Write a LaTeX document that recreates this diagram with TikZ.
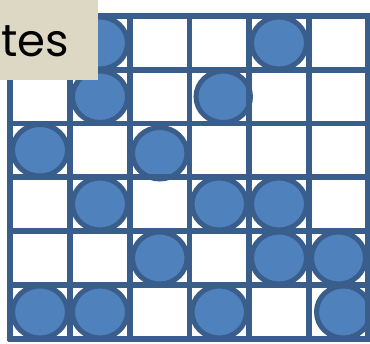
\documentclass[tikz,border=0pt]{standalone}
\usepackage{fontspec}
\newfontfamily\labelfont{Poppins}
\definecolor{gridblue}{HTML}{3A5E8C}
\definecolor{dotblue}{HTML}{4F81BD}
\definecolor{labelbg}{HTML}{DDD8C4}
\begin{document}
\begin{tikzpicture}[x=1pt,y=-1pt,
  gridline/.style={draw=gridblue,line width=5.5pt},
  dot/.style={draw=gridblue,fill=dotblue,line width=5pt}]
\useasboundingbox (0,0) rectangle (370,344);
\def\xs{{10,70,130,189.5,249,309,368}}
\def\ys{{16,70,123.5,177,231,285,339}}
% circles: (col,row,dx,dy)
\foreach \c/\r/\dx/\dy in {2/1/0/0,5/1/0/0,2/2/0/0,4/2/4/0,1/3/0/0,3/3/0/3,2/4/0/0,4/4/0/0,5/4/0/0,3/5/0/0,5/5/0/0,6/5/0/0,1/6/0/0,2/6/0/0,4/6/0/0,6/6/5/0}{
  \pgfmathsetmacro\xa{\xs[\c-1]}
  \pgfmathsetmacro\xb{\xs[\c]}
  \pgfmathsetmacro\ya{\ys[\r-1]}
  \pgfmathsetmacro\yb{\ys[\r]}
  \path[dot] ({(\xa+\xb)/2+\dx},{(\ya+\yb)/2+\dy}) ellipse ({(\xb-\xa)/2-2.5} and {(\yb-\ya)/2-1});
}
\foreach \i in {0,...,6}{
  \pgfmathsetmacro\xx{\xs[\i]}
  \draw[gridline] (\xx,13.5) -- (\xx,341.5);
  \pgfmathsetmacro\yy{\ys[\i]}
  \draw[gridline] (7.5,\yy) -- (370.5,\yy);
}
\node[fill=labelbg,minimum width=98pt,minimum height=80pt,anchor=north west,inner sep=0pt] (label) at (0,0) {};
\node[anchor=base west,inner sep=0pt,font=\labelfont\fontsize{45}{50}\selectfont] (txt) at (1,57) {tes};
\end{tikzpicture}
\end{document}
